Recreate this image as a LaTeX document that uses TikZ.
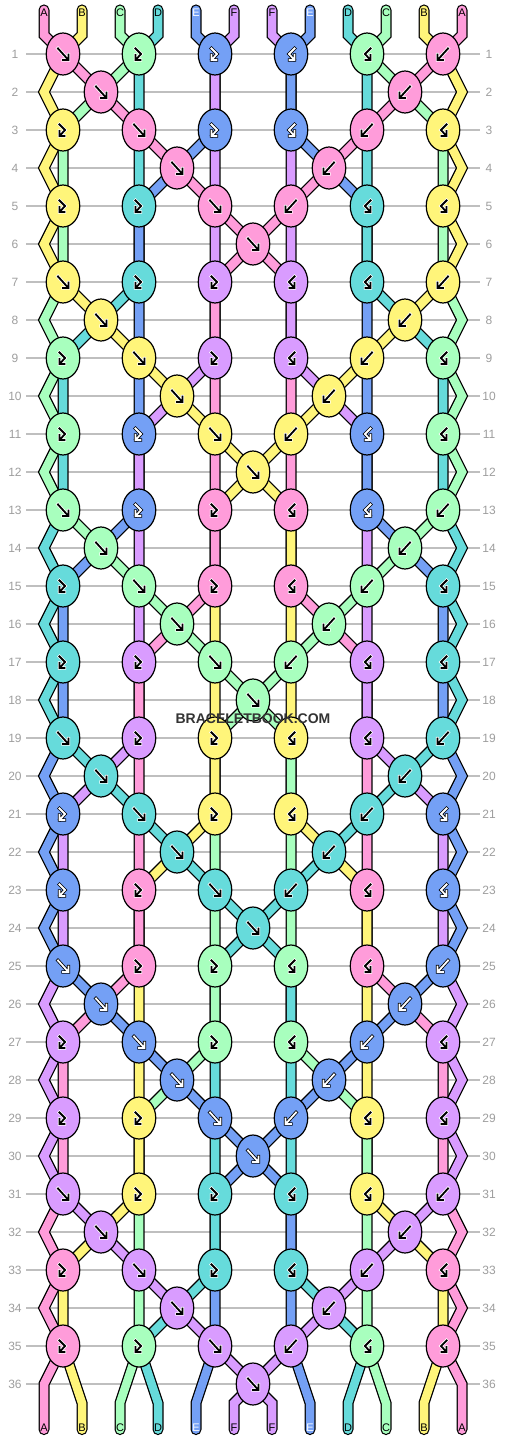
\documentclass[tikz,border=0pt]{standalone}
\usepackage{fontspec}
\setmainfont{Liberation Sans}
\usetikzlibrary{shapes.geometric}

\definecolor{k0}{HTML}{FF9CDA}
\definecolor{k1}{HTML}{FFF57A}
\definecolor{k2}{HTML}{A8FFBE}
\definecolor{k3}{HTML}{66DBDB}
\definecolor{k4}{HTML}{74A0F5}
\definecolor{k5}{HTML}{D99CFF}

% route of a string through one block of six rows, by its position at the block start
\newcommand\posA[1]{-- (1,#1) -- (3,#1+1) -- (5,#1+2) -- (7,#1+3) -- (9,#1+4) -- (11,#1+5)}
\newcommand\posB[1]{-- (1,#1) -- (0,#1+1) -- (1,#1+2) -- (0,#1+3) -- (1,#1+4) -- (0,#1+5)}
\newcommand\posC[1]{-- (5,#1) -- (3,#1+1) -- (1,#1+2) -- (1,#1+4)}
\newcommand\posD[1]{-- (5,#1) -- (5,#1+2) -- (5,#1+4)}
\newcommand\posE[1]{-- (9,#1) -- (9,#1+2) -- (7,#1+3) -- (5,#1+4)}
\newcommand\posF[1]{-- (9,#1) -- (9,#1+2) -- (9,#1+4)}
\newcommand\posG[1]{-- (13,#1) -- (13,#1+2) -- (13,#1+4)}
\newcommand\posH[1]{-- (13,#1) -- (13,#1+2) -- (15,#1+3) -- (17,#1+4)}
\newcommand\posI[1]{-- (17,#1) -- (17,#1+2) -- (17,#1+4)}
\newcommand\posJ[1]{-- (17,#1) -- (19,#1+1) -- (21,#1+2) -- (21,#1+4)}
\newcommand\posK[1]{-- (21,#1) -- (22,#1+1) -- (21,#1+2) -- (22,#1+3) -- (21,#1+4) -- (22,#1+5)}
\newcommand\posL[1]{-- (21,#1) -- (19,#1+1) -- (17,#1+2) -- (15,#1+3) -- (13,#1+4) -- (11,#1+5)}

\tikzset{
  strand/.style={line width=1.25pt, double=#1, double distance=8.5pt,
    line join=miter, line cap=round},
  knot/.style={ellipse, draw=black, line width=1.2pt, fill=#1,
    minimum width=33.5pt, minimum height=42pt, inner sep=0pt},
  rowline/.style={black!25, line width=1.2pt},
  rownum/.style={text=black!38, font=\fontsize{12}{14}\selectfont, inner sep=0pt},
  tag/.style={font=\fontsize{11}{12}\selectfont, inner sep=0pt},
  halo/.style={draw=\gedge, line width=3.4pt, line join=miter, line cap=rect},
  glyph/.style={draw=\gcore, line width=1.8pt, line join=miter, line cap=rect},
  pics/fwd/.style={code={
    \foreach \s in {halo,glyph}
      \draw[x=1pt,y=-1pt,\s] (-5,-5.5) -- (4.5,5) (0,6) -- (5.5,6) -- (5.5,0.5);
  }},
  pics/hook/.style={code={
    \foreach \s in {halo,glyph}
      \draw[x=1pt,y=-1pt,\s] (-3.5,-5.5) -- (2,0) -- (-3,5.5) (1.5,6) -- (-3.5,6) -- (-3.5,1);
  }},
}

\begin{document}
\begin{tikzpicture}[x=1pt,y=-1pt]
  \fill[white] (0,0) rectangle (506,1440);
  \useasboundingbox (0,0) rectangle (506,1440);

  % row guide lines and row numbers
  \foreach \rw in {1,...,36} {
    \draw[rowline] (26,16+38*\rw) -- (480,16+38*\rw);
    \node[rownum] (ln\rw) at (15,16+38*\rw) {\rw};
    \node[rownum] (rn\rw) at (489,16+38*\rw) {\rw};
  }

  \begin{scope}[xshift=44pt,yshift=-16pt,x=19pt,y=-38pt]
    \def\ytop{-0.16}
    \def\ybot{37.2}
    % strings, in order of their start position
    \draw[strand=k0] (0,\ytop) -- (0,0.5) \posA{1}\posG{7}\posH{13}\posI{19}\posJ{25}\posK{31} -- (22,36.5) -- (22,\ybot);
    \draw[strand=k1] (2,\ytop) -- (2,0.5) \posB{1}\posA{7}\posG{13}\posH{19}\posI{25}\posJ{31} -- (20,36.5) -- (20,\ybot);
    \draw[strand=k2] (4,\ytop) -- (4,0.5) \posC{1}\posB{7}\posA{13}\posG{19}\posH{25}\posI{31} -- (18,36.5) -- (18,\ybot);
    \draw[strand=k3] (6,\ytop) -- (6,0.5) \posD{1}\posC{7}\posB{13}\posA{19}\posG{25}\posH{31} -- (16,36.5) -- (16,\ybot);
    \draw[strand=k4] (8,\ytop) -- (8,0.5) \posE{1}\posD{7}\posC{13}\posB{19}\posA{25}\posG{31} -- (14,36.5) -- (14,\ybot);
    \draw[strand=k5] (10,\ytop) -- (10,0.5) \posF{1}\posE{7}\posD{13}\posC{19}\posB{25}\posA{31} -- (12,36.5) -- (12,\ybot);
    \draw[strand=k5] (12,\ytop) -- (12,0.5) \posG{1}\posH{7}\posI{13}\posJ{19}\posK{25}\posL{31} -- (10,36.5) -- (10,\ybot);
    \draw[strand=k4] (14,\ytop) -- (14,0.5) \posH{1}\posI{7}\posJ{13}\posK{19}\posL{25}\posF{31} -- (8,36.5) -- (8,\ybot);
    \draw[strand=k3] (16,\ytop) -- (16,0.5) \posI{1}\posJ{7}\posK{13}\posL{19}\posF{25}\posE{31} -- (6,36.5) -- (6,\ybot);
    \draw[strand=k2] (18,\ytop) -- (18,0.5) \posJ{1}\posK{7}\posL{13}\posF{19}\posE{25}\posD{31} -- (4,36.5) -- (4,\ybot);
    \draw[strand=k1] (20,\ytop) -- (20,0.5) \posK{1}\posL{7}\posF{13}\posE{19}\posD{25}\posC{31} -- (2,36.5) -- (2,\ybot);
    \draw[strand=k0] (22,\ytop) -- (22,0.5) \posL{1}\posF{7}\posE{13}\posD{19}\posC{25}\posB{31} -- (0,36.5) -- (0,\ybot);

    % knots, block by block; right half is the mirror of the left half
    \foreach \bk in {0,...,5} {
      \foreach \mm/\dr/\jj/\ta in {1/0/0/fwd, 5/0/2/hook, 9/0/4/hook, 3/1/0/fwd,
          1/2/1/hook, 5/2/0/fwd, 9/2/4/hook, 7/3/0/fwd,
          1/4/1/hook, 5/4/3/hook, 9/4/0/fwd} {
        \pgfmathtruncatemacro\rw{6*\bk+1+\dr}
        \pgfmathtruncatemacro\kc{mod(\bk+\jj,6)}
        \pgfmathtruncatemacro\mr{22-\mm}
        \ifnum\kc=4 \def\gcore{white}\def\gedge{black}\else\def\gcore{black}\def\gedge{white}\fi
        \node[knot=k\kc] (k\rw-\mm) at (\mm,\rw) {};
        \pic at (k\rw-\mm) {\ta};
        \node[knot=k\kc] (k\rw-\mr) at (\mr,\rw) {};
        \pic[xscale=-1] at (k\rw-\mr) {\ta};
      }
      \pgfmathtruncatemacro\rw{6*\bk+6}
      \ifnum\bk=4 \def\gcore{white}\def\gedge{black}\else\def\gcore{black}\def\gedge{white}\fi
      \node[knot=k\bk] (k\rw-11) at (11,\rw) {};
      \pic at (k\rw-11) {fwd};
    }
  \end{scope}

  % string letters, top and bottom
  \foreach \i/\lab/\tc in {0/A/black, 1/B/black, 2/C/black, 3/D/black, 4/E/white, 5/F/black,
      6/F/black, 7/E/white, 8/D/black, 9/C/black, 10/B/black, 11/A/black} {
    \node[tag,text=\tc] (top\i) at (44+38*\i,13) {\lab};
    \node[tag,text=\tc] (bot\i) at (44+38*\i,1428) {\lab};
  }

  \node[font=\bfseries\fontsize{14}{16}\selectfont, text=black!80, inner sep=0pt] (mark) at (253,719) {BRACELETBOOK.COM};
\end{tikzpicture}
\end{document}
